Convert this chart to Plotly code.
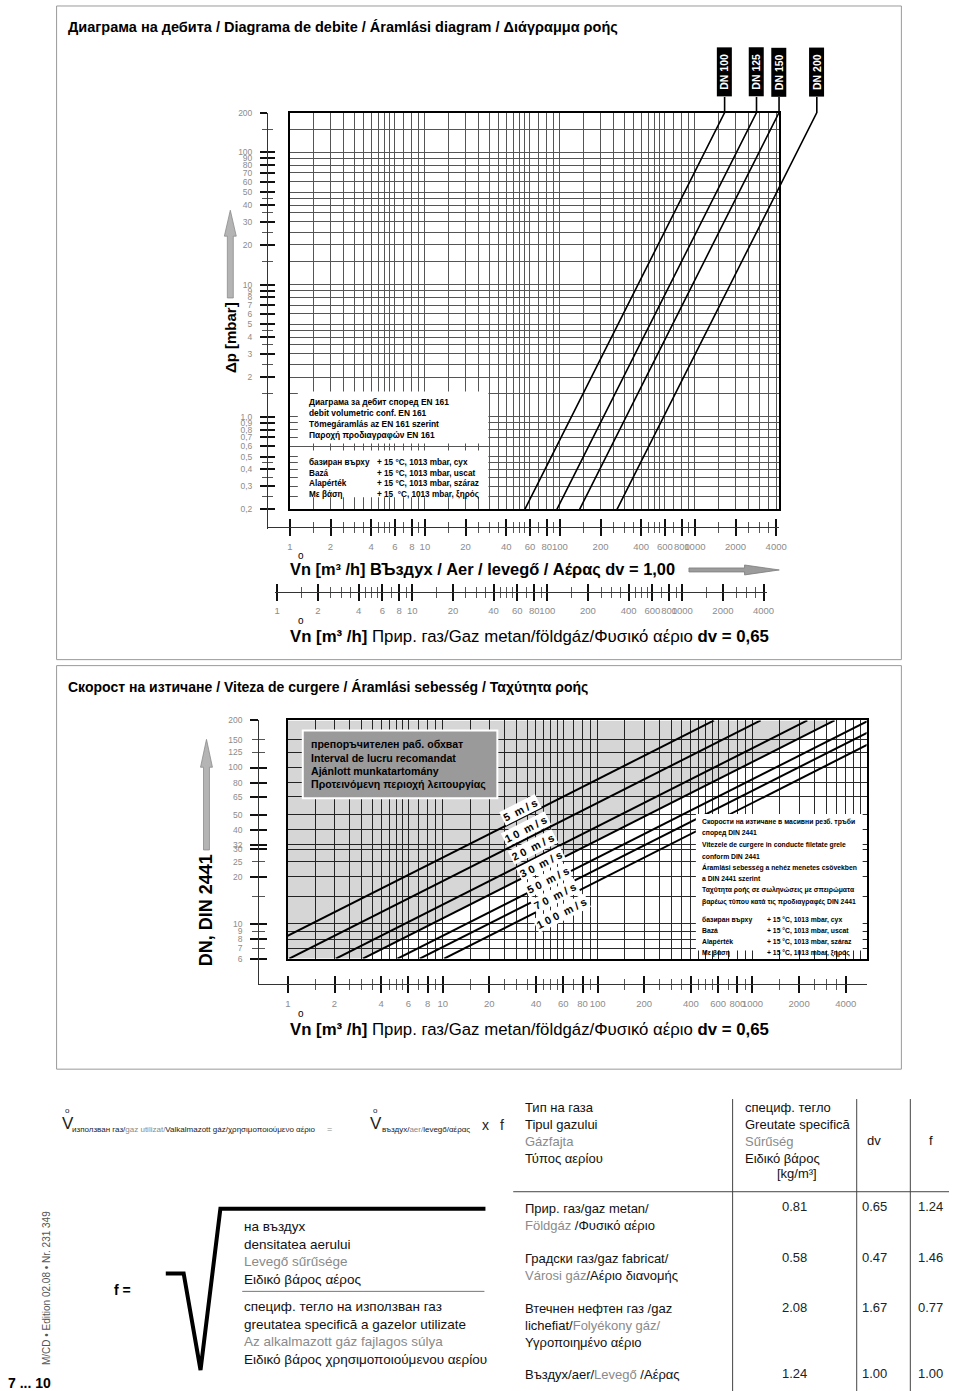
import numpy as np
import plotly.graph_objects as go

W, H = 960, 1391


def fx(p):
    return p / W


def fy(p):
    return 1 - p / H


# ======================= DATA =======================
# --- top chart: pressure drop lines (air flow Vn [m3/h] read at dp = 0.2 and 200 mbar)
dn_names = ["DN 100", "DN 125", "DN 150", "DN 200"]
dn_flow_low = [55, 95, 140, 265]
dn_flow_high = [1660, 2860, 4200, 8000]
dp_low = 0.2
dp_high = 200

dp_ticks = [200, 100, 90, 80, 70, 60, 50, 40, 30, 20, 10, 9, 8, 7, 6, 5, 4, 3, 2,
            1.0, 0.9, 0.8, 0.7, 0.6, 0.5, 0.4, 0.3, 0.2]
dp_ticktext = ["200", "100", "90", "80", "70", "60", "50", "40", "30", "20", "10", "9", "8",
               "7", "6", "5", "4", "3", "2", "1,0", "0,9", "0,8", "0,7", "0,6", "0,5",
               "0,4", "0,3", "0,2"]
dp_minor = [150, 45, 35, 25, 15, 4.5, 3.5, 2.5, 1.5, 0.45, 0.35, 0.25]
dp_grid = [200, 150, 100, 90, 80, 70, 60, 50, 45, 40, 35, 30, 25, 20, 15,
           10, 9, 8, 7, 6, 5, 4.5, 4, 3.5, 3, 2.5, 2, 1.5,
           1, 0.9, 0.8, 0.7, 0.6, 0.5, 0.45, 0.4, 0.35, 0.3, 0.25, 0.2]

flow_ticks = [1, 2, 4, 6, 8, 10, 20, 40, 60, 80, 100, 200, 400, 600, 800, 1000, 2000, 4000]
flow_ticktext = ["1", "2", "4", "6", "8", "10", "20", "40", "60", "80", "100", "200",
                 "400", "600", "800", "1000", "2000", "4000"]
flow_minor = [1.5, 2.5, 3, 3.5, 4.5, 5, 5.5, 7, 9,
              15, 25, 30, 35, 45, 50, 55, 70, 90,
              150, 250, 300, 350, 450, 500, 550, 700, 900,
              1500, 2500, 3000, 3500]
flow_grid = [1, 1.5, 2, 2.5, 3, 3.5, 4, 4.5, 5, 5.5, 6, 7, 8, 9,
             10, 15, 20, 25, 30, 35, 40, 45, 50, 55, 60, 70, 80, 90,
             100, 150, 200, 250, 300, 350, 400, 450, 500, 550, 600, 700, 800, 900,
             1000, 1500, 2000, 2500, 3000, 3500, 4000, 4500, 5000]

# --- velocity chart: lines read at DN 6 and DN 200 (flow Vn [m3/h])
speed_names = ["5 m/s", "10 m/s", "20 m/s", "30 m/s", "50 m/s", "70 m/s", "100 m/s"]
speed_flow_dn_low = [0.51, 1.02, 2.04, 3.05, 5.1, 7.1, 10.2]
speed_flow_dn_high = [565, 1130, 2260, 3390, 5650, 7920, 11300]
dn_low = 6
dn_high = 200

dn_ticks_major = [200, 100, 80, 65, 50, 40, 32, 30, 20, 10, 8, 6]
dn_ticks_minor = [150, 125, 25, 15, 9, 7]
dn_label_vals = [200, 150, 125, 100, 80, 65, 50, 40, 32, 30, 25, 20, 10, 9, 8, 7, 6]
dn_grid = [200, 150, 125, 100, 80, 65, 50, 40, 32, 30, 25, 20, 15, 10, 9, 8, 7, 6]

# recommended working range (grey area) outline
recommended_flow = [1, 1, 3390, 3.05]
recommended_dn = [6, 200, 200, 6]

# --- gas table
gas_names = [
    "Прир. газ/gaz metan/<br><span style='color:#8a8a8a'>Földgáz</span> /Φυσικό αέριο",
    "Градски газ/gaz fabricat/<br><span style='color:#8a8a8a'>Városi gáz</span>/Αέριο διανομής",
    "Втечнен нефтен газ /gaz<br>lichefiat/<span style='color:#8a8a8a'>Folyékony gáz/</span><br>Υγροποιημένο αέριο",
    "Въздух/aer/<span style='color:#8a8a8a'>Levegő</span> /Αέρας",
]
gas_density = [0.81, 0.58, 2.08, 1.24]
gas_dv = [0.65, 0.47, 1.67, 1.00]
gas_f = [1.24, 1.46, 0.77, 1.00]
row_y = [1206, 1257, 1307, 1373]

# ======================= STYLE / GEOMETRY =======================
SANS = "Liberation Sans, Arial, Helvetica, sans-serif"
TICKGRAY = "#8c8c8c"
GRID = "#555555"
AXC = "#333333"

# top chart
T_K, T_KY = 136.0, 132.7
T_P1 = 292          # px position of flow value 1 (air)
T_PREF = 108        # px of dp = 200
T_L, T_R, T_T, T_B = 292, 785, 108, 506
# velocity chart
V_K, V_KY = 156.0, 157.0
V_P1 = 290
V_PREF = 718
V_L, V_R, V_T, V_B = 290, 873, 718, 957


def xrange_px(p1, k, a, b, v1=1.0):
    return [np.log10(v1) + (a - p1) / k, np.log10(v1) + (b - p1) / k]


def yrange_px(pref, vref, k, top, bottom):
    return [np.log10(vref) - (bottom - pref) / k, np.log10(vref) + (pref - top) / k]


def key(letter, n):
    return f"{letter}axis" if n == 1 else f"{letter}axis{n}"


def ref(letter, n):
    return letter if n == 1 else f"{letter}{n}"


layout_axes = {}
traces = []


def dummy(xr, yr):
    traces.append(go.Scatter(x=[None], y=[None], xaxis=xr, yaxis=yr, mode="markers",
                             showlegend=False, hoverinfo="skip"))


def hidden():
    return dict(visible=False, domain=[0, 0.02], range=[0, 1], fixedrange=True)


def y_ruler(nb, nx, pos, top, bottom, pref, vref, k, major, minor, labvals, labtext,
            majlen, minlen, majw, minw, gap, fsize=9):
    rng = yrange_px(pref, vref, k, top, bottom)
    layout_axes[key("x", nx)] = hidden()
    common = dict(type="log", range=rng, anchor="free", position=fx(pos), side="left",
                  showgrid=False, zeroline=False, fixedrange=True, tickmode="array")
    layout_axes[key("y", nb)] = dict(
        common, domain=[fy(bottom), fy(top)], showline=True, linecolor=AXC, linewidth=1,
        tickvals=major, ticks="outside", ticklen=majlen, tickwidth=majw, tickcolor="#111",
        showticklabels=False,
        minor=dict(tickmode="array", tickvals=minor, ticks="outside", ticklen=minlen,
                   tickwidth=minw, tickcolor="#555", showgrid=False))
    layout_axes[key("y", nb + 1)] = dict(
        common, overlaying=ref("y", nb), showline=False,
        tickvals=major, ticks="inside", ticklen=majlen, tickwidth=majw, tickcolor="#111",
        showticklabels=False,
        minor=dict(tickmode="array", tickvals=minor, ticks="inside", ticklen=minlen,
                   tickwidth=minw, tickcolor="#555", showgrid=False))
    layout_axes[key("y", nb + 2)] = dict(
        common, overlaying=ref("y", nb), showline=False,
        tickvals=labvals, ticktext=labtext, ticks="outside", ticklen=gap,
        tickcolor="rgba(0,0,0,0)", showticklabels=True,
        tickfont=dict(family=SANS, size=fsize, color=TICKGRAY))
    for i in range(3):
        dummy(ref("x", nx), ref("y", nb + i))


def x_ruler(nb, ny, pos, left, right, p1, k, major, minor, labvals, labtext,
            majlen, minlen, majw, minw, gap, fsize=9.5):
    rng = xrange_px(p1, k, left, right)
    layout_axes[key("y", ny)] = hidden()
    common = dict(type="log", range=rng, anchor="free", position=fy(pos), side="bottom",
                  showgrid=False, zeroline=False, fixedrange=True, tickmode="array",
                  tickangle=0)
    layout_axes[key("x", nb)] = dict(
        common, domain=[fx(left), fx(right)], showline=True, linecolor=AXC, linewidth=1,
        tickvals=major, ticks="outside", ticklen=majlen, tickwidth=majw, tickcolor="#111",
        showticklabels=False,
        minor=dict(tickmode="array", tickvals=minor, ticks="outside", ticklen=minlen,
                   tickwidth=minw, tickcolor="#555", showgrid=False))
    layout_axes[key("x", nb + 1)] = dict(
        common, overlaying=ref("x", nb), showline=False,
        tickvals=major, ticks="inside", ticklen=majlen, tickwidth=majw, tickcolor="#111",
        showticklabels=False,
        minor=dict(tickmode="array", tickvals=minor, ticks="inside", ticklen=minlen,
                   tickwidth=minw, tickcolor="#555", showgrid=False))
    layout_axes[key("x", nb + 2)] = dict(
        common, overlaying=ref("x", nb), showline=False,
        tickvals=labvals, ticktext=labtext, ticks="outside", ticklen=gap,
        tickcolor="rgba(0,0,0,0)", showticklabels=True,
        tickfont=dict(family=SANS, size=fsize, color=TICKGRAY))
    for i in range(3):
        dummy(ref("x", nb + i), ref("y", ny))


# ---------------- top chart: main grid (x1 / y1)
layout_axes["xaxis"] = dict(
    type="log", domain=[fx(T_L), fx(T_R)], range=xrange_px(T_P1, T_K, T_L, T_R),
    tickmode="array", tickvals=flow_grid, showticklabels=False, ticks="",
    showgrid=True, gridcolor=GRID, gridwidth=1, showline=True, mirror=True,
    linecolor="black", linewidth=2, zeroline=False, fixedrange=True, anchor="y")
layout_axes["yaxis"] = dict(
    type="log", domain=[fy(T_B), fy(T_T)], range=yrange_px(T_PREF, 200, T_KY, T_T, T_B),
    tickmode="array", tickvals=dp_grid, showticklabels=False, ticks="",
    showgrid=True, gridcolor=GRID, gridwidth=1, showline=True, mirror=True,
    linecolor="black", linewidth=2, zeroline=False, fixedrange=True, anchor="x")
dummy("x", "y")

# ---------------- top chart: extension subplot for DN lines (x2 / y2)
EXT_R, EXT_T = 845, 92
ext_yrange = yrange_px(T_PREF, 200, T_KY, EXT_T, T_B)
layout_axes["xaxis2"] = dict(type="log", visible=False, domain=[fx(T_L), fx(EXT_R)],
                             range=xrange_px(T_P1, T_K, T_L, EXT_R), anchor="y2",
                             fixedrange=True)
layout_axes["yaxis2"] = dict(type="log", visible=False, domain=[fy(T_B), fy(EXT_T)],
                             range=ext_yrange, anchor="x2", fixedrange=True)
for i, name in enumerate(dn_names):
    traces.append(go.Scatter(
        x=[dn_flow_low[i], dn_flow_high[i], dn_flow_high[i]],
        y=[dp_low, dp_high, 10 ** ext_yrange[1]],
        xaxis="x2", yaxis="y2", mode="lines", line=dict(color="black", width=1.6),
        showlegend=False, hoverinfo="skip", name=name))

# ---------------- rulers of top chart
y_ruler(3, 3, 269, T_T, 526, T_PREF, 200, T_KY, dp_ticks, dp_minor, dp_ticks, dp_ticktext,
        7, 5, 2.2, 1, 13, fsize=8.5)
x_ruler(4, 6, 524, 269, T_R, T_P1, T_K, flow_ticks, flow_minor, flow_ticks, flow_ticktext,
        8, 5, 2, 1, 10)
gas_p1 = T_P1 - T_K * np.log10(gas_f[0])
x_ruler(7, 7, 589, 277, 773, gas_p1, T_K, flow_ticks, flow_minor, flow_ticks, flow_ticktext,
        8, 5, 2, 1, 10)

# ---------------- velocity chart main (x10 / y8)
layout_axes["xaxis10"] = dict(
    type="log", domain=[fx(V_L), fx(V_R)], range=xrange_px(V_P1, V_K, V_L, V_R),
    tickmode="array", tickvals=flow_grid, showticklabels=False, ticks="",
    showgrid=True, gridcolor="#2a2a2a", gridwidth=1, showline=True, mirror=True,
    linecolor="black", linewidth=2.2, zeroline=False, fixedrange=True, anchor="y8")
layout_axes["yaxis8"] = dict(
    type="log", domain=[fy(V_B), fy(V_T)], range=yrange_px(V_PREF, 200, V_KY, V_T, V_B),
    tickmode="array", tickvals=dn_grid, showticklabels=False, ticks="",
    showgrid=True, gridcolor="#2a2a2a", gridwidth=1, showline=True, mirror=True,
    linecolor="black", linewidth=2.2, zeroline=False, fixedrange=True, anchor="x10")

traces.append(go.Scatter(x=recommended_flow, y=recommended_dn, xaxis="x10", yaxis="y8",
                         mode="lines", fill="toself", fillcolor="rgba(0,0,0,0.16)",
                         line=dict(width=0), showlegend=False, hoverinfo="skip"))
for i, name in enumerate(speed_names):
    traces.append(go.Scatter(x=[speed_flow_dn_low[i], speed_flow_dn_high[i]],
                             y=[dn_low, dn_high], xaxis="x10", yaxis="y8", mode="lines",
                             line=dict(color="black", width=2), showlegend=False,
                             hoverinfo="skip", name=name))

y_ruler(9, 11, 260, V_T, 983, V_PREF, 200, V_KY, dn_ticks_major, dn_ticks_minor,
        dn_label_vals, [str(v) for v in dn_label_vals], 8, 6, 2.4, 1, 14, fsize=8.5)
x_ruler(12, 12, 983, 260, V_R, V_P1, V_K, flow_ticks, flow_minor, flow_ticks, flow_ticktext,
        8, 5, 2, 1, 10)

# ======================= ANNOTATIONS =======================
anns = []


def A(text, x, y, size=12, color="#000", family=SANS, xa="left", ya="middle", angle=0,
      align="left", **kw):
    d = dict(text=text, x=fx(x), y=fy(y), xref="paper", yref="paper", showarrow=False,
             xanchor=xa, yanchor=ya, textangle=angle, align=align,
             font=dict(family=family, size=size, color=color))
    d.update(kw)
    anns.append(d)


def lines(texts, x, y0, dy, size, bold=True, color="#000"):
    for i, t in enumerate(texts):
        A(f"<b>{t}</b>" if bold else t, x, y0 + i * dy, size, color=color)


# titles
A("<b>Диаграма на дебита / Diagrama de debite / Áramlási diagram / Διάγραμμα ροής</b>",
  66, 22, 14.5)
A("<b>Скорост на изтичане / Viteza de curgere / Áramlási sebesség / Ταχύτητα ροής</b>",
  66, 684, 14)

# DN labels (black boxes) at the flow of each line at dp_high
for i, name in enumerate(dn_names):
    anns.append(dict(text=f"<b>{name}</b>", x=np.log10(dn_flow_high[i]), xref="x2",
                     y=fy(67.5), yref="paper", showarrow=False, textangle=-90,
                     bgcolor="black", font=dict(family=SANS, size=10.5, color="white"),
                     width=46, height=12, borderpad=1, xanchor="center", yanchor="middle"))

# vertical axis titles
A("<b>Δp [mbar]</b>", 232, 334, 15, angle=-90, xa="center", ya="middle")
A("<b>DN, DIN 2441</b>", 207, 908, 18, angle=-90, xa="center", ya="middle")

# axis titles with ring
A("<b>Vn [m³ /h] ВЪздух / Aer / levegő / Αέρας dv = 1,00</b>", 290, 567, 16.4)
A("o", 298, 552, 10)
A("<b>Vn [m³ /h]</b> Прир. газ/Gaz metan/földgáz/Φυσικό αέριο <b>dv = 0,65</b>", 290, 634, 16.8)
A("o", 298, 618, 10)
A("<b>Vn [m³ /h]</b> Прир. газ/Gaz metan/földgáz/Φυσικό αέριο <b>dv = 0,65</b>", 290, 1028, 16.8)
A("o", 298, 1012, 10)

# top chart info box
lines(["Диаграма за дебит според EN 161", "debit volumetric conf. EN 161",
       "Tömegáramlás az EN 161 szerint", "Παροχή προδιαγραφών EN 161"], 309, 398, 11.3, 8.4)
lines(["базиран върху", "Bazá", "Alapérték", "Με βάση"], 309, 459, 10.8, 8.2)
lines(["+ 15 °C, 1013 mbar, сух", "+ 15 °C, 1013 mbar, uscat", "+ 15 °C, 1013 mbar, száraz",
       "+ 15  °C, 1013 mbar, ξηρός"], 378, 459, 10.8, 8.2)

# velocity chart grey box
lines(["препоръчителен раб. обхват", "Interval de lucru recomandat", "Ajánlott munkatartomány",
       "Προτεινόμενη περιοχή λειτουργίας"], 311, 742, 13.3, 10.6)

# velocity labels
lab_pos = [(524, 808), (530, 827), (537, 845), (545, 862), (552, 878), (559, 894), (566, 911)]
for name, (lx, ly) in zip(speed_names, lab_pos):
    num, unit = name.split(" ")
    A(f"<b>{' '.join(num)}  m / s</b>", lx, ly, 10.8, xa="center", ya="middle", angle=-27,
      bgcolor="white", borderpad=1)

# velocity chart info box
lines(["Скорости на изтичане в масивни резб. тръби", "според DIN 2441",
       "Vitezele de curgere in conducte filetate grele", "conform DIN 2441",
       "Áramlási sebesség a nehéz menetes csövekben", "a DIN 2441 szerint",
       "Ταχύτητα ροής σε σωληνώσεις με σπειρώματα",
       "βαρέως τύπου κατά τις προδιαγραφές DIN 2441"], 705, 820, 11.4, 6.8)
lines(["базиран върху", "Bazá", "Alapérték", "Με βάση"], 705, 918, 11, 6.8)
lines(["+ 15 °C, 1013 mbar, сух", "+ 15 °C, 1013 mbar, uscat", "+ 15 °C, 1013 mbar, száraz",
       "+ 15 °C, 1013 mbar, ξηρός"], 771, 918, 11, 6.8)

# ---------------- bottom formula area
G = "#8a8a8a"
A("V", 60, 1123, 17, color="#222")
A("o", 63, 1109, 8, color="#222")
A("използван газ/<span style='color:%s'>gaz utilizat/</span>Valkalmazott gáz/χρησιμοποιούμενο αέριο" % G,
  71, 1129, 8, color="#222")
A("=", 327, 1128, 9, color=G)
A("V", 371, 1123, 17, color="#222")
A("o", 374, 1109, 8, color="#222")
A("въздух/<span style='color:%s'>aer/</span>levegő/αέρας" % G, 383, 1129, 8, color="#222")
A("x", 484, 1124, 14, color="#222")
A("f", 502, 1124, 14, color="#222")

A("Тип на газа<br>Tipul gazului<br><span style='color:%s'>Gázfajta</span><br>Τύπος αερίου" % G,
  527, 1132, 13, color="#111")
A("специф. тегло<br>Greutate specifică<br><span style='color:%s'>Sűrűség</span><br>Ειδικό βάρος" % G,
  748, 1132, 13, color="#111")
A("[kg/m³]", 781, 1173, 13, color="#111")
A("dv", 880, 1140, 13, color="#111", xa="center")
A("f", 938, 1140, 13, color="#111", xa="center")

for i in range(len(gas_names)):
    A(gas_names[i], 527, row_y[i], 13, color="#111", ya="top", yshift=8)
    A(f"{gas_density[i]:.2f}", 800, row_y[i], 13, color="#222", xa="center")
    A(f"{gas_dv[i]:.2f}", 881, row_y[i], 13, color="#222", xa="center")
    A(f"{gas_f[i]:.2f}", 937, row_y[i], 13, color="#222", xa="center")

A("<b>f =</b>", 113, 1290, 14)
A("на въздух<br>densitatea aerului<br><span style='color:%s'>Levegő sűrűsége</span><br>Ειδικό βάρος αέρος" % G,
  244, 1253, 13.5, color="#111")
A("специф. тегло на използван газ<br>greutatea specifică a gazelor utilizate<br>"
  "<span style='color:%s'>Az alkalmazott gáz fajlagos súlya</span><br>"
  "Ειδικό βάρος χρησιμοποιούμενου αερίου" % G, 244, 1333, 13.5, color="#111")
A("M/CD • Edition 02.08 • Nr. 231 349", 47, 1288, 10, color="#555", angle=-90, xa="center")
A("<b>7 ... 10</b>", 30, 1383, 14, xa="center")

# ======================= SHAPES =======================
shapes = []


def rect(x0, y0, x1, y1, fill="white", line=None, lw=0, layer="above"):
    shapes.append(dict(type="rect", xref="paper", yref="paper", x0=fx(x0), x1=fx(x1),
                       y0=fy(y1), y1=fy(y0), fillcolor=fill,
                       line=dict(color=line or fill, width=lw), layer=layer))


def seg(x0, y0, x1, y1, color="#000", w=1):
    shapes.append(dict(type="line", xref="paper", yref="paper", x0=fx(x0), x1=fx(x1),
                       y0=fy(y0), y1=fy(y1), line=dict(color=color, width=w), layer="above"))


def path(pts, fill=None, color="#000", w=1, close=True):
    d = "M " + " L ".join(f"{fx(x):.5f},{fy(y):.5f}" for x, y in pts) + (" Z" if close else "")
    shapes.append(dict(type="path", xref="paper", yref="paper", path=d,
                       fillcolor=fill if fill else "rgba(0,0,0,0)",
                       line=dict(color=color, width=w), layer="above"))


# section frames
rect(57, 1, 908, 657, fill="rgba(0,0,0,0)", line="#9a9a9a", lw=1, layer="below")
rect(57, 663, 908, 1068, fill="rgba(0,0,0,0)", line="#9a9a9a", lw=1, layer="below")

# white text boxes
rect(300, 388, 492, 440)
rect(300, 447, 492, 494)
rect(305, 728, 501, 796, fill="#9a9a9a", line="white", lw=2)
rect(701, 812, 869, 949)

# arrows
path([(232, 206), (238, 232), (235, 232), (235, 294), (229, 294), (229, 232), (226, 232)],
     fill="#b4b4b4", color="#8c8c8c", w=0.8)
path([(208, 737), (214, 765), (211, 765), (211, 848), (205, 848), (205, 765), (202, 765)],
     fill="#b4b4b4", color="#8c8c8c", w=0.8)
path([(694, 565), (750, 565), (750, 562), (785, 567), (750, 572), (750, 569), (694, 569)],
     fill="#9c9c9c", color="#7c7c7c", w=0.8)

# table lines
seg(517, 1191, 956, 1191, color="#444", w=1)
seg(738, 1098, 738, 1391, color="#444", w=1)
seg(863, 1098, 863, 1391, color="#444", w=1)
seg(917, 1098, 917, 1391, color="#444", w=1)
# square root sign and fraction bar
path([(167, 1273), (185, 1273), (202, 1370), (222, 1208), (489, 1208)], color="black", w=4,
     close=False)
seg(244, 1291, 488, 1291, color="#777", w=1)

fig = go.Figure(data=traces)
fig.update_layout(
    width=W, height=H, margin=dict(l=0, r=0, t=0, b=0, pad=0),
    paper_bgcolor="white", plot_bgcolor="rgba(0,0,0,0)", showlegend=False,
    annotations=anns, shapes=shapes, **layout_axes)
fig.write_html("out.html")
